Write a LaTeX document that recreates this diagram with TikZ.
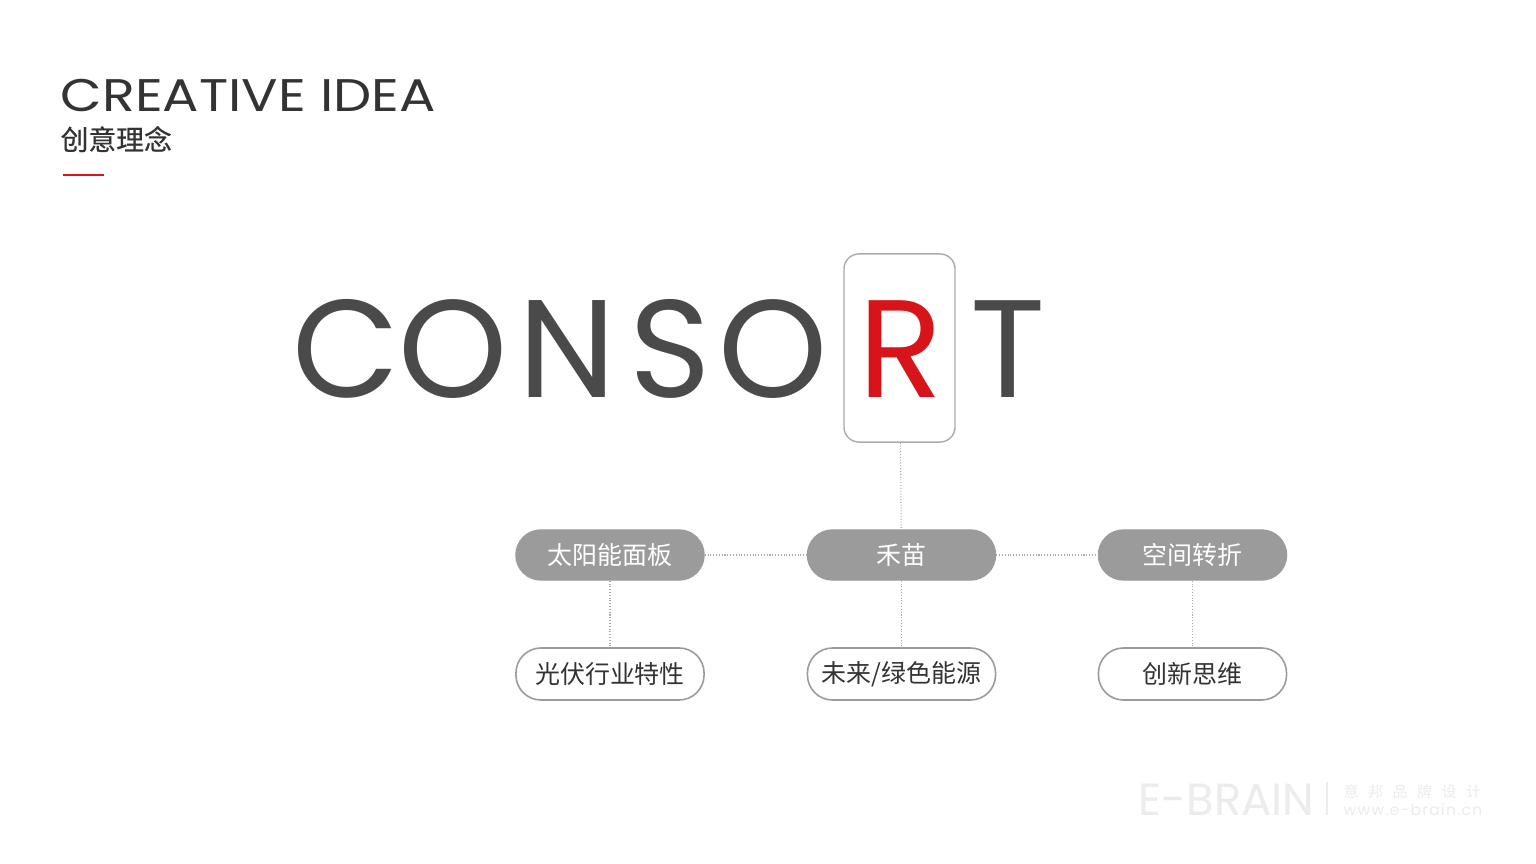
\documentclass[tikz,border=0pt]{standalone}
\usepackage{fontspec}
\usepackage{tikz}
\usetikzlibrary{positioning}
\newfontfamily\cjk{Noto Sans CJK SC}
\newfontfamily\geo{Poppins}
\definecolor{IdeaRed}{HTML}{D7141A}
\definecolor{IdeaDark}{HTML}{333333}
\definecolor{IdeaLetter}{HTML}{4A4A4A}
\definecolor{IdeaPill}{HTML}{9B9B9B}
\definecolor{IdeaLine}{HTML}{ABABAB}
\definecolor{IdeaMark}{HTML}{ECECEC}
\tikzset{
  letter/.style={font=\geo\fontsize{39.5}{44}\selectfont, text=IdeaLetter, inner sep=0, anchor=base},
  link/.style={draw=IdeaLine, line width=0.3pt, dash pattern=on 0.3pt off 0.5pt},
}
\newcommand{\drawpill}{\node[draw=IdeaPill,fill=IdeaPill,rounded corners=0.25cm,minimum width=1.88cm,minimum height=0.5cm,text=white,font=\cjk\fontsize{7.1}{8}\selectfont]}
\newcommand{\drawring}{\node[draw=IdeaPill,fill=white,line width=0.45pt,rounded corners=0.25cm,minimum width=1.88cm,minimum height=0.52cm,text=IdeaDark,font=\cjk\fontsize{7.1}{8}\selectfont]}
\newcommand{\drawmark}{\node[text=IdeaMark,inner sep=0]}

\begin{document}
\begin{tikzpicture}[x=0.01cm,y=-0.01cm]
\fill[white] (0,0) rectangle (1536,864);
\useasboundingbox (0,0) rectangle (1536,864);
%heading
\node[anchor=base west, inner sep=0, xscale=1.18, text=IdeaDark, font=\geo\fontsize{13}{14}\selectfont] (title) at (60,112) {CREATIVE IDEA};
\node[anchor=base west, inner sep=0, text=IdeaDark, font=\cjk\fontsize{7.9}{9}\selectfont\addfontfeature{FakeBold=0.6}] (subtitle) at (60,150) {创意理念};
\draw[IdeaRed, line width=0.6pt] (63,175) -- (104,175);

%the word, letter by letter
\node[letter] (c) at (346,398) {C};
\node[letter] (o1) at (453,398) {O};
\node[letter] (n) at (567,398) {N};
\node[letter] (s) at (670,398) {S};
\node[letter] (o2) at (773,398) {O};
\node[letter, text=IdeaRed] (r) at (901,398) {R};
\node[letter] (t) at (1008,398) {T};
\node[draw=IdeaLine, line width=0.4pt, rounded corners=0.15cm, minimum width=1.11cm, minimum height=1.88cm] (rbox) at (899.5,348) {};

%pills
\drawpill (solar) at (610,555) {太阳能面板};
\drawpill (sprout) at (901.5,555) {禾苗};
\drawpill (turn) at (1192.5,555) {空间转折};
\drawring (pv) at (610,674) {光伏行业特性};
\drawring (green) at (901.5,674) {未来/绿色能源};
\drawring (think) at (1192.5,674) {创新思维};

\draw[link] (rbox) -- (sprout);
\draw[link] (solar) -- (sprout);
\draw[link] (sprout) -- (turn);
\draw[link] (solar) -- (pv);
\draw[link] (sprout) -- (green);
\draw[link] (turn) -- (think);

%watermark
\drawmark[anchor=base west, font=\geo\fontsize{12.8}{14}\selectfont] (brand) at (1138,815) {E-BRAIN};
\draw[IdeaMark, line width=0.4pt] (1327,782) -- (1327,815);
\drawmark[anchor=base west, font=\cjk\fontsize{4.3}{5}\selectfont] (brandcn) at (1343,797) {意\hspace{0.62em}邦\hspace{0.62em}品\hspace{0.62em}牌\hspace{0.62em}设\hspace{0.62em}计};
\drawmark[anchor=base west, font=\geo\fontsize{4.4}{5}\selectfont\addfontfeature{LetterSpace=8}] (site) at (1343,815) {www.e-brain.cn};
\end{tikzpicture}
\end{document}
